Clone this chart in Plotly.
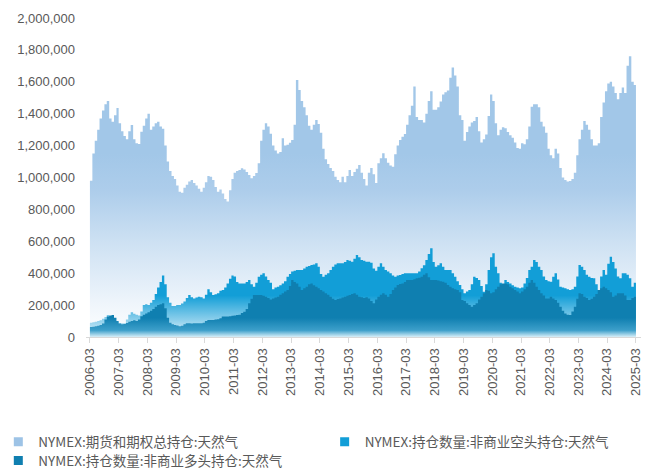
import pandas as pd
import plotly.graph_objects as go

# Monthly readings, March 2006 .. March 2025 (units: contracts, in thousands)
total_oi = [
    980, 1150, 1230, 1300, 1370, 1420, 1460, 1480, 1370, 1350, 1390, 1435,   # 2006-03..
    1340, 1290, 1260, 1240, 1290, 1329, 1240, 1215, 1210, 1287, 1325, 1370,  # 2007-03..
    1400, 1300, 1320, 1340, 1350, 1320, 1305, 1200, 1100, 1040, 1010, 990,   # 2008-03..
    950, 910, 905, 935, 955, 975, 985, 965, 950, 930, 910, 935,              # 2009-03..
    970, 1010, 1005, 985, 940, 910, 925, 900, 865, 850, 920, 990,            # 2010-03..
    1030, 1040, 1047, 1058, 1050, 1035, 1015, 995, 1010, 1028, 1090, 1230,   # 2011-03..
    1300, 1340, 1320, 1275, 1200, 1170, 1150, 1160, 1246, 1200, 1205, 1218,  # 2012-03..
    1235, 1330, 1611, 1549, 1480, 1440, 1390, 1325, 1300, 1330, 1360, 1335,  # 2013-03..
    1280, 1180, 1115, 1085, 1060, 1040, 1005, 985, 970, 1005, 970, 1010,     # 2014-03..
    1047, 1010, 1035, 1055, 1078, 1030, 990, 950, 1030, 1060, 1020, 965,     # 2015-03..
    1089, 1120, 1152, 1120, 1092, 1075, 1068, 1145, 1200, 1235, 1256, 1272,  # 2016-03..
    1330, 1390, 1450, 1570, 1380, 1360, 1360, 1345, 1400, 1480, 1540, 1424,  # 2017-03..
    1424, 1440, 1476, 1520, 1535, 1545, 1625, 1690, 1640, 1570, 1390, 1360,  # 2018-03..
    1230, 1285, 1320, 1345, 1355, 1380, 1290, 1220, 1240, 1270, 1385, 1520,  # 2019-03..
    1480, 1340, 1265, 1300, 1315, 1308, 1285, 1265, 1250, 1220, 1185, 1180,  # 2020-03..
    1214, 1208, 1240, 1320, 1444, 1460, 1460, 1440, 1350, 1320, 1280, 1180,  # 2021-03..
    1140, 1120, 1180, 1150, 1060, 1000, 984, 975, 978, 990, 1030, 1140,      # 2022-03..
    1240, 1300, 1355, 1330, 1300, 1240, 1200, 1200, 1214, 1380, 1470, 1540,  # 2023-03..
    1590, 1600, 1570, 1530, 1490, 1530, 1565, 1530, 1700, 1760, 1600, 1580,  # 2024-03..
    1650,                                                                    # 2025-03
]

noncomm_short = [
    90, 92, 96, 100, 105, 115, 125, 138, 132, 118, 100, 92,
    88, 86, 86, 110, 140, 155, 145, 140, 135, 160, 200, 205,
    200, 215, 232, 270, 310, 345, 385, 330, 250, 215, 195, 195,
    200, 200, 210, 222, 245, 263, 250, 242, 248, 253, 250, 242,
    265, 300, 280, 263, 268, 274, 290, 295, 310, 336, 365, 385,
    380, 345, 336, 336, 336, 345, 357, 330, 315, 340, 378, 390,
    399, 380, 357, 340, 300, 310, 315, 325, 336, 350, 378, 395,
    410, 415, 420, 420, 420, 430, 441, 445, 451, 455, 462, 440,
    395, 378, 390, 399, 420, 441, 455, 462, 462, 462, 470, 483,
    478, 472, 490, 514, 500, 483, 478, 472, 472, 465, 430, 415,
    440, 462, 440, 420, 410, 399, 385, 378, 385, 389, 395, 399,
    399, 399, 399, 399, 400, 410, 431, 450, 483, 520, 556, 470,
    441, 450, 462, 440, 420, 420, 420, 400, 378, 350, 326, 300,
    274, 285, 295, 330, 378, 370, 357, 320, 284, 330, 420, 500,
    525, 440, 399, 340, 330, 357, 345, 336, 325, 315, 310, 305,
    310, 336, 370, 420, 441, 483, 470, 440, 420, 380, 357, 350,
    347, 378, 399, 360, 315, 310, 305, 300, 295, 300, 315, 380,
    451, 440, 420, 390, 378, 370, 368, 330, 295, 380, 420, 390,
    460, 503, 470, 430, 380, 368, 399, 399, 390, 368, 315, 340,
    368,
]

noncomm_long = [
    62, 65, 68, 70, 75, 85, 110, 128, 135, 138, 120, 100,
    85, 80, 82, 88, 95, 100, 105, 100, 110, 130, 140, 148,
    155, 165, 175, 190, 200, 205, 211, 180, 120, 90, 80, 75,
    72, 68, 70, 80, 86, 86, 85, 86, 86, 86, 86, 90,
    100, 107, 107, 107, 110, 112, 118, 128, 128, 128, 130, 133,
    135, 138, 140, 150, 159, 175, 211, 240, 263, 263, 263, 263,
    258, 253, 245, 235, 242, 248, 253, 265, 274, 285, 295, 320,
    357, 345, 336, 315, 295, 305, 315, 330, 336, 325, 315, 305,
    295, 285, 274, 265, 253, 240, 232, 238, 242, 248, 253, 258,
    263, 270, 274, 265, 253, 250, 245, 250, 242, 225, 211, 235,
    253, 265, 274, 265, 253, 270, 295, 310, 326, 332, 336, 345,
    357, 357, 357, 362, 368, 372, 378, 390, 399, 375, 357, 357,
    357, 355, 350, 347, 340, 326, 315, 305, 300, 295, 280, 232,
    225, 211, 200, 190, 200, 211, 235, 253, 275, 295, 290, 274,
    280, 300, 315, 330, 336, 336, 330, 315, 305, 295, 285, 274,
    285, 300, 315, 340, 357, 340, 315, 295, 274, 260, 242, 242,
    253, 242, 232, 215, 190, 165, 148, 140, 138, 160, 190, 240,
    274, 270, 253, 245, 232, 240, 253, 270, 295, 305, 315, 305,
    295, 280, 253, 260, 274, 274, 274, 260, 232, 232, 245, 253,
    253,
]

series_names = [
    "NYMEX:期货和期权总持仓:天然气",
    "NYMEX:持仓数量:非商业空头持仓:天然气",
    "NYMEX:持仓数量:非商业多头持仓:天然气",
]
series_colors = ["#9DC3E6", "#129ED7", "#0F7FB0"]
tick_years = list(range(2006, 2026))

dates = pd.date_range("2006-03-01", periods=len(total_oi), freq="MS")
scale = 1000

fig = go.Figure()

# Gradient-filled areas: each one fades toward white at the baseline
fades = [
    dict(stop=1_150_000, scale=[[0, "#ffffff"], [0.2, "#edf4fb"], [0.5, "#cfe2f3"],
                                [0.8, "#adcdeb"], [1, "#a2c7e8"]]),
    dict(stop=260_000, scale=[[0, "#eef8fc"], [0.4, "#8fd0ec"], [1, series_colors[1]]]),
    dict(stop=120_000, scale=[[0, "#d8eff8"], [0.35, "#3d9fca"], [1, series_colors[2]]]),
]
for vals, name, fade in zip([total_oi, noncomm_short, noncomm_long], series_names, fades):
    fig.add_trace(go.Scatter(
        x=dates, y=[v * scale for v in vals], name=name,
        mode="lines", line=dict(width=0, shape="hv"),
        fill="tozeroy",
        fillgradient=dict(type="vertical", colorscale=fade["scale"],
                          start=0, stop=fade["stop"]),
        showlegend=False, hoverinfo="x+y+name",
    ))

# One legend box per entry, so each swatch sits where it belongs
legend_ids = ["legend", "legend2", "legend3"]
for name, color, lid in zip(series_names, series_colors, legend_ids):
    fig.add_trace(go.Scatter(
        x=[None], y=[None], name=name, mode="markers", legend=lid,
        marker=dict(symbol="square", size=9, color=color),
    ))

legend_font = dict(family="Noto Sans CJK SC", size=13.5, color="#595959")
legend_common = dict(orientation="h", xanchor="left", yanchor="middle",
                     font=legend_font, bgcolor="rgba(0,0,0,0)", itemwidth=30)

fig.update_layout(
    width=649, height=472,
    margin=dict(l=86, r=8, t=18, b=135, autoexpand=False),
    paper_bgcolor="white", plot_bgcolor="white",
    font=dict(family="Liberation Sans, Arial, sans-serif", size=13, color="#595959"),
    showlegend=True,
    legend=dict(x=-0.158, y=-0.329, **legend_common),
    legend2=dict(x=0.430, y=-0.329, **legend_common),
    legend3=dict(x=-0.158, y=-0.388, **legend_common),
)
fig.update_xaxes(
    type="date",
    range=["2006-01-10", "2025-05-04"],
    tickvals=[pd.Timestamp(f"{y}-03-01") for y in tick_years],
    ticktext=[f"{y}-03" for y in tick_years],
    tickangle=-90, ticks="outside", ticklen=5, tickcolor="#d9d9d9",
    showline=True, linecolor="#d9d9d9", linewidth=1,
    showgrid=False, zeroline=False,
    tickfont=dict(size=13, color="#595959"),
)
fig.update_yaxes(
    range=[0, 2_000_000], dtick=200_000, tickformat=",d",
    showgrid=False, zeroline=False, showline=False, ticks="",
    ticklabelstandoff=10,
    tickfont=dict(size=13, color="#595959"),
)

fig.write_html("out.html")
